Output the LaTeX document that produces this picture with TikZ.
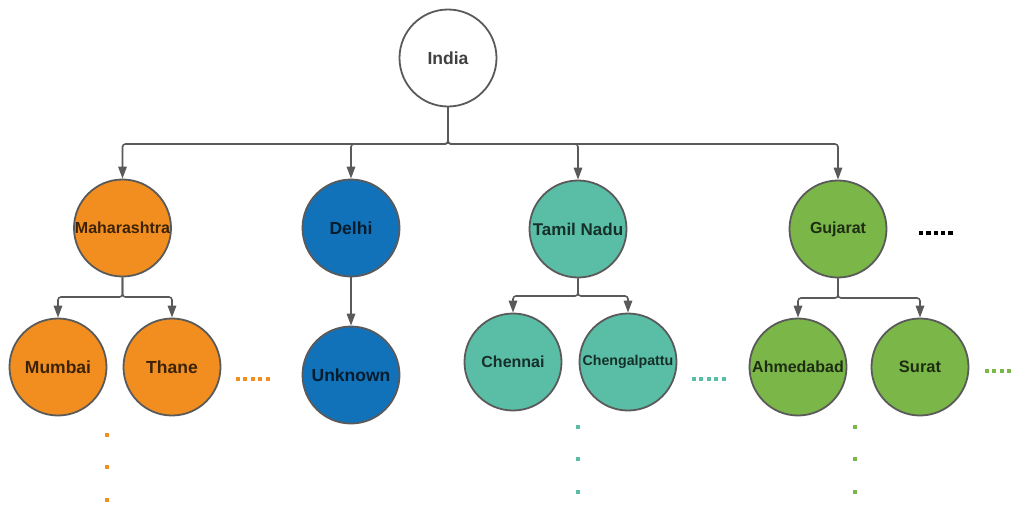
\documentclass[tikz,border=0pt]{standalone}
\usepackage{fontspec}
\setmainfont{Liberation Sans}
\usetikzlibrary{arrows.meta}
\definecolor{orangeC}{HTML}{F18E1F}
\definecolor{blueC}{HTML}{1172B9}
\definecolor{tealC}{HTML}{5ABDA6}
\definecolor{greenC}{HTML}{7AB648}
\definecolor{lineC}{HTML}{5A5A5A}
\tikzset{
  city/.style={circle, draw=lineC, line width=1.8pt, minimum size=97pt, inner sep=0pt,
    font=\bfseries, text=black, text opacity=0.75},
  conn/.style={draw=lineC, line width=1.6pt, rounded corners=3pt,
    -{Triangle[length=12pt,width=8.5pt]}},
  fs/.style={font=\fontsize{#1}{#1}\selectfont\bfseries},
}
\newcommand{\hdots}[4]{% x start, y, color, size
  \foreach \k in {0,...,4}{\fill[#3] ({#1+\k*7.4-#4/2},{#2-#4/2}) rectangle ++(#4,#4);}}
\newcommand{\vdotsx}[3]{% x, color, list of y
  \foreach \yy in {#3}{\fill[#2] ({#1-2},{\yy-2}) rectangle ++(4,4);}}
\begin{document}
\begin{tikzpicture}[x=1pt,y=-1pt]
\useasboundingbox (0,0) rectangle (1012,507);
\fill[white] (0,0) rectangle (1012,507);

\node[city, fill=white, fs=17.5] (india) at (448,58) {India};

\node[city, fill=orangeC, fs=16] (mah) at (122.5,228) {Maharashtra};
\node[city, fill=blueC, fs=17.5] (del) at (351,228) {Delhi};
\node[city, fill=tealC, fs=17] (tn) at (578,229) {Tamil Nadu};
\node[city, fill=greenC, fs=16] (guj) at (838,229) {Gujarat};

\node[city, fill=orangeC, fs=17.5] (mum) at (58,367) {Mumbai};
\node[city, fill=orangeC, fs=17.5] (tha) at (172,367) {Thane};
\node[city, fill=blueC, fs=17.5] (unk) at (351,375) {Unknown};
\node[city, fill=tealC, fs=16] (che) at (513,362) {Chennai};
\node[city, fill=tealC, fs=14.2] (chg) at (628,362) {Chengalpattu};
\node[city, fill=greenC, fs=16] (ahm) at (798,367) {Ahmedabad};
\node[city, fill=greenC, fs=16.5] (sur) at (920,367) {Surat};

\coordinate (busI) at (448,144);
\coordinate (busM) at (122.5,297);
\coordinate (busT) at (578,296);
\coordinate (busG) at (838,298);

\foreach \c in {mah,del,tn,guj}{
  \draw[conn] (india.south) -- (busI) -| (\c.north);
}
\foreach \c in {mum,tha}{\draw[conn] (mah.south) -- (busM) -| (\c.north);}
\foreach \c in {che,chg}{\draw[conn] (tn.south) -- (busT) -| (\c.north);}
\foreach \c in {ahm,sur}{\draw[conn] (guj.south) -- (busG) -| (\c.north);}
\draw[conn] (del.south) -- (unk.north);

% ellipsis dots
\hdots{238}{379}{orangeC}{4}
\hdots{694}{379}{tealC}{4}
\hdots{921}{233}{black}{4.5}
\hdots{987}{371}{greenC}{4}
\vdotsx{107}{orangeC}{435,467,500}
\vdotsx{578}{tealC}{427,459,492}
\vdotsx{855}{greenC}{427,459,492}
\end{tikzpicture}
\end{document}
